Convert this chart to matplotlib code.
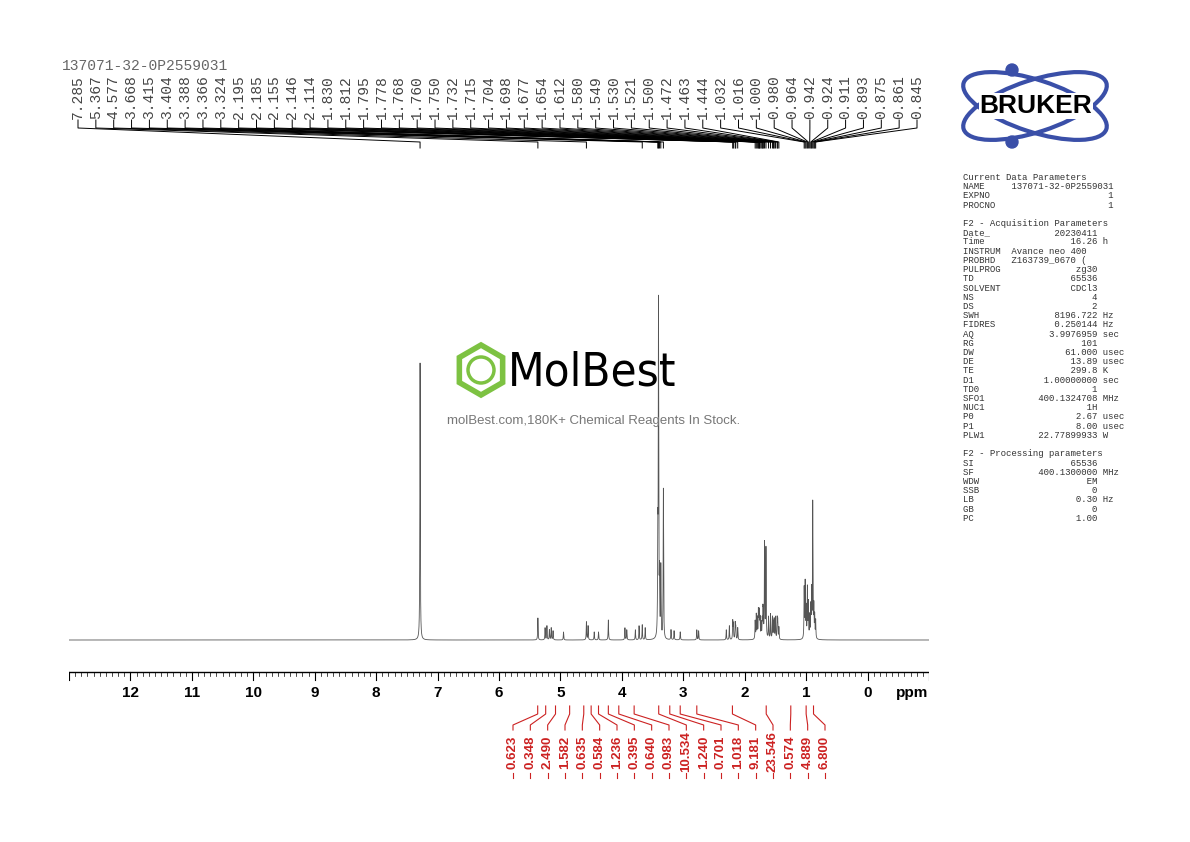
import numpy as np
import matplotlib
matplotlib.use("Agg")
import matplotlib.pyplot as plt
from matplotlib.patches import Ellipse, RegularPolygon, Circle

# ---- data ----
peak_ppm = [7.285, 5.367, 5.25, 5.22, 5.18, 5.15, 5.12, 4.95, 4.577, 4.55, 4.45, 4.38, 4.22,
            3.95, 3.92, 3.78, 3.72, 3.668, 3.62, 3.415, 3.404, 3.388, 3.366, 3.324,
            3.20, 3.15, 3.05, 2.78, 2.75, 2.30, 2.25, 2.195, 2.185, 2.155, 2.146, 2.114,
            1.830, 1.812, 1.795, 1.778, 1.768, 1.760, 1.750, 1.732, 1.715, 1.704, 1.698,
            1.677, 1.654, 1.612, 1.580, 1.549, 1.530, 1.521, 1.500, 1.472, 1.463, 1.444,
            1.032, 1.016, 1.000, 0.980, 0.964, 0.942, 0.924, 0.911, 0.893, 0.875, 0.861, 0.845]
peak_h = [277, 22, 12, 14, 10, 12, 9, 8, 18, 14, 8, 8, 20,
          12, 10, 10, 14, 15, 12, 90, 330, 55, 70, 150,
          10, 9, 8, 10, 9, 10, 14, 18, 15, 16, 12, 12,
          18, 24, 20, 26, 22, 22, 18, 15, 17, 24, 20,
          95, 90, 22, 25, 22, 15, 18, 22, 20, 18, 12,
          50, 55, 30, 50, 35, 22, 30, 45, 135, 30, 22, 18]
peak_labels = ["7.285", "5.367", "4.577", "3.668", "3.415", "3.404", "3.388", "3.366", "3.324",
               "2.195", "2.185", "2.155", "2.146", "2.114", "1.830", "1.812", "1.795", "1.778",
               "1.768", "1.760", "1.750", "1.732", "1.715", "1.704", "1.698", "1.677", "1.654",
               "1.612", "1.580", "1.549", "1.530", "1.521", "1.500", "1.472", "1.463", "1.444",
               "1.032", "1.016", "1.000", "0.980", "0.964", "0.942", "0.924", "0.911", "0.893",
               "0.875", "0.861", "0.845"]
integral_vals = ["0.623", "0.348", "2.490", "1.582", "0.635", "0.584", "1.236", "0.395", "0.640",
                 "0.983", "10.534", "1.240", "0.701", "1.018", "9.181", "23.546", "0.574",
                 "4.889", "6.800"]
integral_ppm = [5.37, 5.24, 5.08, 4.85, 4.62, 4.50, 4.38, 4.22, 4.05, 3.80, 3.40, 3.22, 3.05,
                2.78, 2.20, 1.65, 1.25, 1.00, 0.88]

params = """Current Data Parameters
NAME     137071-32-0P2559031
EXPNO                      1
PROCNO                     1

F2 - Acquisition Parameters
Date_            20230411
Time                16.26 h
INSTRUM  Avance neo 400
PROBHD   Z163739_0670 (
PULPROG              zg30
TD                  65536
SOLVENT             CDCl3
NS                      4
DS                      2
SWH              8196.722 Hz
FIDRES           0.250144 Hz
AQ              3.9976959 sec
RG                    101
DW                 61.000 usec
DE                  13.89 usec
TE                  299.8 K
D1             1.00000000 sec
TD0                     1
SFO1          400.1324708 MHz
NUC1                   1H
P0                   2.67 usec
P1                   8.00 usec
PLW1          22.77899933 W

F2 - Processing parameters
SI                  65536
SF            400.1300000 MHz
WDW                    EM
SSB                     0
LB                   0.30 Hz
GB                      0
PC                   1.00"""

# ---- figure ----
W, H = 1190, 842
fig = plt.figure(figsize=(W / 100, H / 100), dpi=100)
X0, X1 = 69, 929
ax = fig.add_axes([X0 / W, 0, (X1 - X0) / W, 1])
ax.set_xlim(13, -1)
ax.set_ylim(H, 0)
ax.axis("off")
ppx = 14 / (X1 - X0)
def px2ppm(px):
    return 13 - (px - X0) * ppx

BASE = 640
x = np.linspace(13, -1, 80000)
y = np.zeros_like(x)
for p, h in zip(peak_ppm, peak_h):
    w = 0.004
    y += h * w**2 / ((x - p)**2 + w**2)
ax.plot(x, BASE - y, color="#555555", lw=0.6)

# ruler
RY = 672
ax.plot([13, -1], [RY, RY], color="black", lw=1)
for t in np.arange(-10, 131) / 10:
    major = abs(t - round(t)) < 1e-6
    ax.plot([t, t], [RY, RY + (8 if major else 4)], color="black", lw=0.8 if major else 0.5)
for t in range(0, 13):
    ax.text(t, 693, str(t), ha="center", va="center", fontsize=11, fontweight="bold",
            family="Liberation Sans")
ax.text(px2ppm(912), 693, "ppm", ha="center", va="center", fontsize=11, fontweight="bold",
        family="Liberation Sans")

# peak labels
n = len(peak_labels)
lx = np.linspace(78, 917, n)
for i, lab in enumerate(peak_labels):
    xl = px2ppm(lx[i])
    p = float(lab)
    ax.text(xl, 119, lab, rotation=90, ha="center", va="bottom", fontsize=10.5,
            family="Liberation Mono", color="#444444")
    ax.plot([xl, xl, p, p], [120, 128, 142, 148], color="black", lw=0.7)
ax.text(px2ppm(62), 66, "137071-32-0P2559031", ha="left", va="center", fontsize=10.5,
        family="Liberation Mono", color="#666666")

# integrals
m = len(integral_vals)
ix = np.linspace(513, 825, m)
for i, v in enumerate(integral_vals):
    xl = px2ppm(ix[i])
    p = integral_ppm[i]
    ax.text(xl, 752, v, rotation=90, ha="center", va="center", fontsize=9.5, fontweight="bold",
            color="#cc2222", family="Liberation Sans")
    ax.plot([xl, xl, p, p], [730, 725, 714, 706], color="#cc2222", lw=0.8)
    ax.plot([xl, xl], [773, 778], color="#cc2222", lw=0.8)

# decorations overlay
deco = fig.add_axes([0, 0, 1, 1], zorder=5)
deco.set_xlim(0, W); deco.set_ylim(H, 0); deco.axis("off")
deco.patch.set_alpha(0)
# MolBest watermark
deco.add_patch(RegularPolygon((481, 370), 6, radius=25, orientation=np.pi / 6 + np.pi / 2,
                              fill=False, ec="#7dc242", lw=4))
deco.add_patch(Circle((481, 370), 13, fill=False, ec="#7dc242", lw=2.5))
deco.text(508, 373, "MolBest", fontsize=34, va="center", ha="left", color="black",
          family="Liberation Sans Narrow", fontstretch="condensed")
deco.text(594, 421, "molBest.com,180K+ Chemical Reagents In Stock.", fontsize=9.5,
          ha="center", va="center", color="#777777", family="Liberation Sans")
# Bruker logo
for ang in (18, -18):
    deco.add_patch(Ellipse((1035, 106), 150, 52, angle=ang, fill=False, ec="#3a4fa8", lw=3))
deco.add_patch(Circle((1012, 70), 6, color="#3a4fa8"))
deco.add_patch(Circle((1012, 142), 6, color="#3a4fa8"))
deco.text(1036, 106, "BRUKER", fontsize=19, fontweight="bold", ha="center", va="center",
          family="Liberation Sans", color="black",
          bbox=dict(fc="white", ec="none", pad=0.3))
deco.text(963, 173, params, fontsize=6.5, family="Liberation Mono", va="top", ha="left",
          color="#333333", linespacing=1.03)

fig.savefig("out.png", dpi=100)
